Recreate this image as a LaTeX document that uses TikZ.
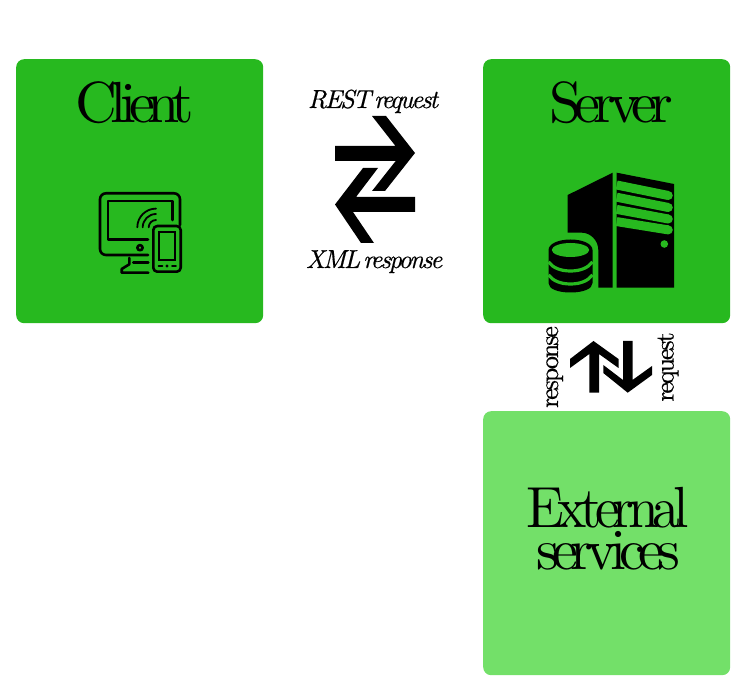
\documentclass[tikz,border=0pt]{standalone}
\usepackage{fontspec}
\newfontfamily\headfont[LetterSpace=-12]{lmroman10-regular.otf}
\newfontfamily\labelfont[LetterSpace=-8,FakeBold=0.4]{lmroman10-regular.otf}
\newfontfamily\labelitfont[LetterSpace=-8.5,WordSpace=0.4,FakeBold=0.4]{lmroman10-italic.otf}
\definecolor{darkgreen}{HTML}{27B91F}
\definecolor{lightgreen}{HTML}{73E069}
\tikzset{
  panel/.style={rounded corners=8pt,inner sep=0pt,minimum width=247pt,minimum height=264pt,anchor=north west},
  headtext/.style={anchor=base,inner sep=0pt,font=\headfont\fontsize{58}{58}\selectfont},
  arrowtext/.style={anchor=base,inner sep=0pt,font=\labelitfont\fontsize{26}{26}\selectfont},
  sidetext/.style={anchor=base,inner sep=0pt,rotate=90,font=\labelfont\fontsize{26}{26}\selectfont},
  iconline/.style={draw=black,line width=2.6pt,line cap=round,line join=round},
  thinline/.style={draw=black,line width=1.8pt,line cap=round}
}
\begin{document}
\begin{tikzpicture}[x=1pt,y=-1pt]
\useasboundingbox (0,0) rectangle (750,700);
\node[panel,fill=darkgreen] (client) at (16,59) {};
\node[panel,fill=darkgreen] (server) at (483,59) {};
\node[panel,fill=lightgreen] (external) at (483,411) {};
\node[headtext] (clienttext) at (135,123) {Client};
\node[headtext] (servertext) at (611,123) {Server};
\node[headtext,xscale=0.955] (externaltext) at (607.5,527.5) {External};
\node[headtext] (servicestext) at (608,569) {services};
\node[arrowtext] (resttext) at (373,108) {REST request};
\node[arrowtext] (xmltext) at (374,268) {XML response};
\node[sidetext] (responsetext) at (558,367) {response};
\node[sidetext] (requesttext) at (673.5,367) {request};
% horizontal arrows
\fill (335,146) -- (395.5,146) -- (372,116) -- (386,116) -- (415,153) -- (385,191) -- (372,191) -- (395.7,161) -- (335,161) -- cycle;
\fill (415,197) -- (356,197) -- (378,168) -- (363,168) -- (335,204.5) -- (361,243) -- (374,243) -- (353,212) -- (415,212) -- cycle;
% vertical arrows
\fill (593.5,341) -- (618.5,359) -- (618.5,368) -- (599,354) -- (599,392.7) -- (589.3,392.7) -- (589.3,354) -- (570,368) -- (570,359) -- cycle;
\fill (623,341) -- (632.5,341) -- (632.5,380) -- (652,366) -- (652,375) -- (627.7,392.7) -- (603.3,373) -- (603.3,365) -- (623,380) -- cycle;
% client icon
\draw[iconline,rounded corners=6pt] (148,255) -- (100,255) -- (100,193.3) -- (180,193.3) -- (180,225);
\draw[iconline] (148,239.3) -- (108,239.3) -- (108,201) -- (172.7,201) -- (172.7,220);
\draw[iconline] (140,247.7) circle[radius=2.6pt];
\draw[iconline] (129.3,258) -- (129.3,264.3) -- (121.7,269) -- (121.7,272.7) -- (148.3,272.7);
\draw[iconline] (133.3,262.7) -- (148.3,262.7);
\draw[iconline,rounded corners=4pt] (153.3,226) rectangle (180.7,271.7);
\draw[thinline] (159.3,231.7) rectangle (175,260);
\draw[thinline] (158.5,266) -- (162.5,266);
\draw[thinline] (172,266) -- (176,266);
\fill (167,266) circle[radius=1.7pt];
\draw[thinline] (137.3,227.3) .. controls (137.3,217) and (145.7,208.6) .. (156,208.6);
\draw[thinline] (142.7,227.3) .. controls (142.7,220) and (148.7,214) .. (156,214);
\draw[thinline] (148.7,227.3) .. controls (148.7,223.3) and (152,220) .. (156,220);
% server icon
\fill (567.7,195) -- (612.7,172.7) -- (612.7,287.7) -- (598.3,287.7) -- (598.3,250) .. controls (598.3,240) and (590,232.7) .. (582,232.7) -- (567.7,232.7) -- cycle;
\fill (616.7,172.7) -- (674,184) -- (674,287.7) -- (616.7,287.7) -- cycle;
\foreach \ya/\yb in {185/195.5,197.2/207.5,209.4/219,221.6/229.9}{
  \draw[darkgreen,line width=9pt] (616.7,\ya) -- (668.3,\yb);
  \fill[darkgreen] (668.3,\yb) circle[radius=4.5pt];
}
\fill[darkgreen] (664.3,244) circle[radius=3.8pt];
% database
\fill (548.5,250) .. controls (548.5,244) and (558,239.5) .. (570.5,239.5) .. controls (583,239.5) and (592.5,244) .. (592.5,250) -- (592.5,283) .. controls (592.5,289) and (583,292.5) .. (570.5,292.5) .. controls (558,292.5) and (548.5,289) .. (548.5,283) -- cycle;
\fill[darkgreen] (570.5,250) ellipse[x radius=18.7pt,y radius=7pt];
\draw[darkgreen,line width=3.2pt] (548.5,262) .. controls (553,268) and (561,271) .. (570.5,271) .. controls (580,271) and (588,268) .. (592.5,262);
\draw[darkgreen,line width=3.2pt] (548.5,275) .. controls (553,281) and (561,284) .. (570.5,284) .. controls (580,284) and (588,281) .. (592.5,275);
\end{tikzpicture}
\end{document}
